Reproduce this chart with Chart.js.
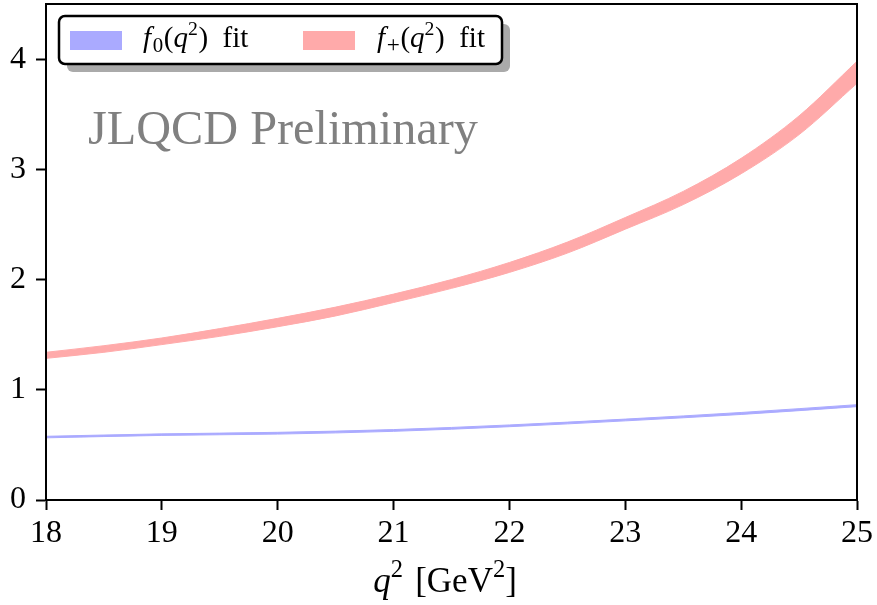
<!DOCTYPE html>
<html><head><meta charset="utf-8">
<script src="https://cdn.jsdelivr.net/npm/chart.js@4"></script>
<style>html,body{margin:0;padding:0;background:#fff}#wrap{width:877px;height:605px}</style>
</head><body><div id="wrap"><canvas id="c" width="877" height="605"></canvas></div>
<script>
// ---- data ----
const qValues    = [18, 18.5, 19, 19.5, 20, 20.5, 21, 21.5, 22, 22.5, 23, 23.5, 24, 24.5, 25];
const fPlusUpper = [1.34, 1.40, 1.47, 1.555, 1.648, 1.75, 1.868, 2.00, 2.155, 2.34, 2.563, 2.80, 3.10, 3.485, 3.98];
const fPlusLower = [1.285, 1.34, 1.41, 1.485, 1.572, 1.67, 1.792, 1.92, 2.065, 2.24, 2.457, 2.68, 2.96, 3.315, 3.78];
const f0Q        = [18, 19, 20, 21, 22, 23, 24, 25];
const f0Upper    = [0.578, 0.600, 0.614, 0.639, 0.681, 0.734, 0.794, 0.865];
const f0Lower    = [0.564, 0.586, 0.598, 0.623, 0.665, 0.718, 0.776, 0.847];
const xTicks = [18, 19, 20, 21, 22, 23, 24, 25];
const yTicks = [0, 1, 2, 3, 4];
const watermark = 'JLQCD Preliminary';

const RED = '#ffaaaa', BLUE = '#aaaaff';
const SERIF = '"Liberation Serif", "DejaVu Serif", serif';

function pts(xs, ys){ return xs.map((x,i)=>({x:x, y:ys[i]})); }

function richWidth(ctx, segs, base){
  let w = 0;
  for (const s of segs){
    ctx.font = (s.italic?'italic ':'') + (base*(s.scale||1)) + 'px ' + SERIF;
    w += ctx.measureText(s.t).width + (s.kern||0)*base;
  }
  return w;
}
function drawRich(ctx, x, y, segs, base){
  let cx = x;
  for (const s of segs){
    ctx.font = (s.italic?'italic ':'') + (base*(s.scale||1)) + 'px ' + SERIF;
    ctx.fillText(s.t, cx, y + (s.dy||0)*base);
    cx += ctx.measureText(s.t).width + (s.kern||0)*base;
  }
}
function roundRect(ctx, x, y, w, h, r){
  ctx.beginPath();
  ctx.moveTo(x+r, y);
  ctx.arcTo(x+w, y, x+w, y+h, r);
  ctx.arcTo(x+w, y+h, x, y+h, r);
  ctx.arcTo(x, y+h, x, y, r);
  ctx.arcTo(x, y, x+w, y, r);
  ctx.closePath();
}

const decor = {
  id: 'decor',
  afterDraw(chart){
    const ctx = chart.ctx, a = chart.chartArea;
    ctx.save();
    // frame
    ctx.strokeStyle = '#000'; ctx.lineWidth = 2;
    ctx.strokeRect(a.left, a.top, a.right - a.left, a.bottom - a.top);

    // watermark
    ctx.fillStyle = '#808080';
    ctx.textBaseline = 'alphabetic';
    let fs = 44;
    ctx.font = fs + 'px ' + SERIF;
    const w0 = ctx.measureText(watermark).width;
    fs = fs * 390 / w0;
    ctx.font = fs + 'px ' + SERIF;
    ctx.fillText(watermark, 88, 144);

    // legend
    const lx = 59, ly = 16, lw = 443, lh = 48;
    ctx.fillStyle = '#aaaaaa';
    roundRect(ctx, lx+8, ly+8, lw, lh, 6); ctx.fill();
    ctx.fillStyle = '#fff';
    roundRect(ctx, lx, ly, lw, lh, 6); ctx.fill();
    ctx.strokeStyle = '#000'; ctx.lineWidth = 2.5;
    roundRect(ctx, lx, ly, lw, lh, 6); ctx.stroke();
    ctx.fillStyle = BLUE; ctx.fillRect(70, 31, 52, 19);
    ctx.fillStyle = RED;  ctx.fillRect(303, 31, 52, 19);
    ctx.fillStyle = '#000';
    const L = 29;
    drawRich(ctx, 143, 47, [
      {t:'f', italic:true, kern:0.06}, {t:'0', scale:0.72, dy:0.16, kern:0.02},
      {t:'('}, {t:'q', italic:true}, {t:'2', scale:0.68, dy:-0.4, kern:0.02}, {t:')', kern:0.25}, {t:' fit'}
    ], L);
    drawRich(ctx, 377, 47, [
      {t:'f', italic:true, kern:0.06}, {t:'+', scale:0.8, dy:0.16, kern:0.02},
      {t:'('}, {t:'q', italic:true}, {t:'2', scale:0.68, dy:-0.4, kern:0.02}, {t:')', kern:0.25}, {t:' fit'}
    ], L);

    // x axis title
    const T = 35;
    const tsegs = [
      {t:'q', italic:true}, {t:'2', scale:0.7, dy:-0.42, kern:0.1}, {t:' [GeV'},
      {t:'2', scale:0.7, dy:-0.42}, {t:']'}
    ];
    const tw = richWidth(ctx, tsegs, T);
    drawRich(ctx, 445 - tw/2, 592, tsegs, T);
    ctx.restore();
  }
};

const tickFont = {family: SERIF, size: 32};
new Chart(document.getElementById('c'), {
  type: 'line',
  data: {
    datasets: [
      {data: pts(qValues, fPlusUpper), borderColor: RED, borderWidth: 1, pointRadius: 0, fill: false},
      {data: pts(qValues, fPlusLower), borderColor: RED, borderWidth: 1, pointRadius: 0, fill: '-1', backgroundColor: RED},
      {data: pts(f0Q, f0Upper), borderColor: BLUE, borderWidth: 1, pointRadius: 0, fill: false},
      {data: pts(f0Q, f0Lower), borderColor: BLUE, borderWidth: 1, pointRadius: 0, fill: '-1', backgroundColor: BLUE}
    ]
  },
  options: {
    responsive: false,
    animation: false,
    devicePixelRatio: 1,
    elements: {line: {cubicInterpolationMode: 'monotone'}},
    layout: {padding: {top: 4, right: 20, left: 0, bottom: 0}},
    plugins: {legend: {display: false}, tooltip: {enabled: false}},
    scales: {
      x: {
        type: 'linear', min: 18, max: 25,
        afterBuildTicks: s => { s.ticks = xTicks.map(v => ({value: v})); },
        afterFit: s => { s.height = 105; s.paddingLeft = 0; s.paddingRight = 0; },
        ticks: {font: tickFont, color: '#000', padding: 4, maxRotation: 0},
        grid: {drawOnChartArea: false, drawTicks: true, tickLength: 10, tickWidth: 2, tickColor: '#000'},
        border: {display: true, color: '#000', width: 2}
      },
      y: {
        type: 'linear', min: 0, max: 4.5,
        afterBuildTicks: s => { s.ticks = yTicks.map(v => ({value: v})); },
        afterFit: s => { s.width = 46; s.paddingTop = 0; s.paddingBottom = 0; },
        ticks: {font: tickFont, color: '#000', padding: 10},
        grid: {drawOnChartArea: false, drawTicks: true, tickLength: 10, tickWidth: 2, tickColor: '#000'},
        border: {display: true, color: '#000', width: 2}
      }
    }
  },
  plugins: [decor]
});
</script>
</body></html>
